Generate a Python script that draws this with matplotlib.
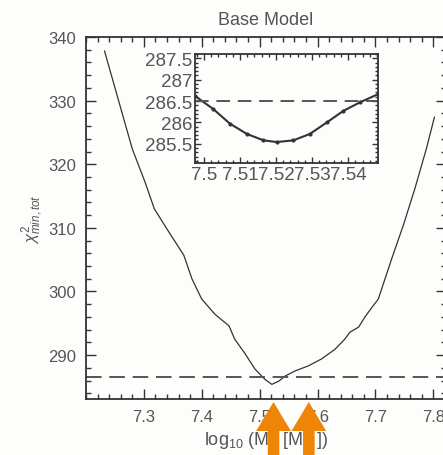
import matplotlib
matplotlib.use("Agg")
import matplotlib.pyplot as plt
from matplotlib.patches import Polygon
from matplotlib.ticker import MultipleLocator
from matplotlib.transforms import blended_transform_factory

plt.rcParams['font.family'] = ['Liberation Sans', 'DejaVu Sans']
plt.rcParams['mathtext.fontset'] = 'custom'
plt.rcParams['mathtext.rm'] = 'Liberation Sans'
plt.rcParams['mathtext.it'] = 'Liberation Sans:italic'

# chi^2 profile over black-hole mass
log_mass = [7.232, 7.280, 7.302, 7.318, 7.340, 7.369, 7.383, 7.400, 7.423,
            7.447, 7.457, 7.475, 7.492, 7.509, 7.521, 7.533, 7.544, 7.561,
            7.584, 7.607, 7.630, 7.647, 7.656, 7.671, 7.682, 7.694, 7.705,
            7.728, 7.749, 7.768, 7.788, 7.802]
chi2 = [337.8, 322.4, 317.2, 313.0, 309.8, 305.7, 302.0, 298.8, 296.4,
        294.6, 292.5, 290.2, 287.8, 286.2, 285.4, 285.9, 286.7, 287.5,
        288.3, 289.4, 290.9, 292.5, 293.6, 294.4, 296.0, 297.5, 298.8,
        305.1, 310.6, 316.1, 322.4, 327.4]

# zoom around the minimum
zoom_mass = [7.4975, 7.5026, 7.5072, 7.5119, 7.5165, 7.5202, 7.5248, 7.5294,
             7.5341, 7.5387, 7.5433, 7.5483]
zoom_chi2 = [286.62, 286.31, 285.97, 285.73, 285.58, 285.54, 285.58, 285.73,
             286.00, 286.27, 286.47, 286.66]

chi2_threshold = 286.5
arrow_mass = [7.524, 7.585]

title = "Base Model"
main_xticks = [7.3, 7.4, 7.5, 7.6, 7.7, 7.8]
main_yticks = [290, 300, 310, 320, 330, 340]
zoom_xticks = [7.50, 7.51, 7.52, 7.53, 7.54]
zoom_xticklabels = ["7.5", "7.51", "7.52", "7.53", "7.54"]
zoom_yticks = [285.5, 286.0, 286.5, 287.0, 287.5]
zoom_yticklabels = ["285.5", "286", "286.5", "287", "287.5"]

TXT = '#555555'
LINE = '#333333'
W, H = 443, 456

fig = plt.figure(figsize=(W / 100, H / 100), dpi=100)
fig.patch.set_facecolor('#fdfdfb')

ax = fig.add_axes([86 / W, (H - 400) / H, (446 - 86) / W, (400 - 38) / H])
ax.set_facecolor('#fdfdfb')
ax.plot(log_mass, chi2, color=LINE, lw=0.9)
ax.axhline(chi2_threshold, color=TXT, lw=1.4, dashes=(8, 4))
ax.set_xlim(7.2, 7.822)
ax.set_ylim(283.1, 340)
ax.set_xticks(main_xticks)
ax.set_xticklabels([f"{v:.1f}" for v in main_xticks])
ax.set_yticks(main_yticks)
ax.xaxis.set_minor_locator(MultipleLocator(0.02))
ax.yaxis.set_minor_locator(MultipleLocator(2))
ax.tick_params(which='both', direction='in', top=True, right=True,
               colors=LINE, labelcolor=TXT, labelsize=12, width=1.0)
ax.tick_params(which='major', length=7, pad=7)
ax.tick_params(which='minor', length=3.5)
for s in ax.spines.values():
    s.set_color(LINE)
    s.set_linewidth(1.3)
ax.set_title(title, color=TXT, fontsize=13, pad=9)
ax.set_xlabel(r"log$_{10}$ (M$_\bullet$ [M$_\odot$])", color=TXT, fontsize=13, labelpad=4)
ax.set_ylabel(r"$\chi^2_{min,tot}$", color=TXT, fontsize=12, labelpad=2)

ins = fig.add_axes([195 / W, (H - 164) / H, (378 - 195) / W, (164 - 55) / H])
ins.set_facecolor('#fdfdfb')
ins.plot(zoom_mass, zoom_chi2, color=LINE, lw=1.5, marker='o', ms=2.0)
ins.axhline(chi2_threshold, color=TXT, lw=1.4, dashes=(7, 4))
ins.set_xlim(7.4975, 7.5483)
ins.set_ylim(285.05, 287.6)
ins.set_xticks(zoom_xticks)
ins.set_xticklabels(zoom_xticklabels)
ins.set_yticks(zoom_yticks)
ins.set_yticklabels(zoom_yticklabels)
ins.xaxis.set_minor_locator(MultipleLocator(0.002))
ins.yaxis.set_minor_locator(MultipleLocator(0.1))
ins.tick_params(which='both', direction='in', top=True, right=True,
                colors=LINE, labelcolor=TXT, labelsize=13.5, width=1.0, pad=2)
ins.tick_params(which='major', length=4)
ins.tick_params(which='minor', length=2)
for s in ins.spines.values():
    s.set_color(LINE)
    s.set_linewidth(1.3)

# orange arrows pointing up at the axis
tr = blended_transform_factory(ax.transData, fig.transFigure)
tip_y, base_y = (H - 403) / H, (H - 432) / H
head_hw, shaft_hw = 0.030, 0.0100
for xm in arrow_mass:
    pts = [(xm, tip_y), (xm + head_hw, base_y), (xm + shaft_hw, base_y),
           (xm + shaft_hw, 0), (xm - shaft_hw, 0), (xm - shaft_hw, base_y),
           (xm - head_hw, base_y)]
    fig.patches.append(Polygon(pts, closed=True, transform=tr,
                               facecolor='#ef8506', edgecolor='none', zorder=10))

fig.savefig("out.png", dpi=100, facecolor=fig.get_facecolor())
